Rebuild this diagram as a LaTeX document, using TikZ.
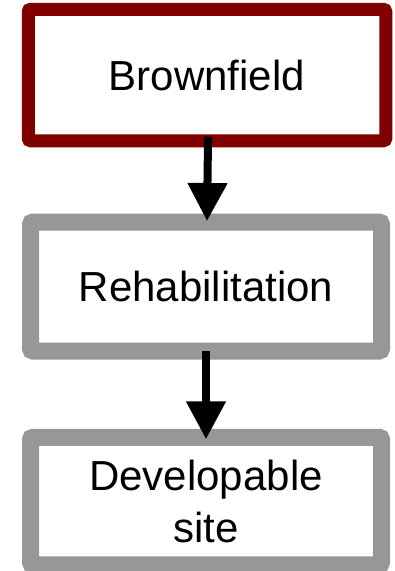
\documentclass[tikz,border=0pt]{standalone}
\usepackage{fontspec}
\setmainfont{Liberation Sans}
\usetikzlibrary{arrows.meta}
\definecolor{boxred}{HTML}{800000}
\definecolor{boxgray}{HTML}{979797}
\begin{document}
\begin{tikzpicture}[x=1pt,y=-1pt,
  stagebox/.style={draw, fill=white, rounded corners=2.5pt, outer sep=0pt, inner sep=0pt,
    font=\fontsize{42}{52}\selectfont, align=center},
  flowarrow/.style={line width=8pt, -{Triangle[width=38pt,length=38pt]}}]
\useasboundingbox (0,0) rectangle (395,571);
\clip (0,0) rectangle (395,571);
\node[stagebox, draw=boxred, line width=13pt, minimum width=357.5pt, minimum height=131.5pt] (b1) at (207,75) {Brownfield};
\node[stagebox, draw=boxgray, line width=17pt, minimum width=351pt, minimum height=129pt] (b2) at (206,286.5) {Rehabilitation};
\node[stagebox, draw=boxgray, line width=17pt, minimum width=351pt, minimum height=127.5pt] (b3) at (206,501) {Developable\\site};
\draw[flowarrow, shorten <=-4pt] ([xshift=1pt]b1.south) -- ([xshift=1pt,yshift=1pt]b2.north);
\draw[flowarrow] (b2.south) -- ([yshift=-2pt]b3.north);
\end{tikzpicture}
\end{document}
